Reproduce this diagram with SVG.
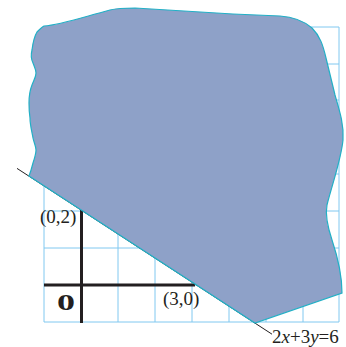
<svg xmlns="http://www.w3.org/2000/svg" width="346" height="347" viewBox="0 0 346 347">
<style>
.grid{stroke:#80C8F0;stroke-width:1;fill:none}
.axis{stroke:#231F20;stroke-width:3;fill:none}
.t{font-family:"Liberation Serif","Times New Roman",serif;font-size:19px;fill:#231F20}
.big{font-size:24px;font-weight:bold}
</style>
<rect width="346" height="347" fill="#fff"/>
<g id="grid" class="grid">
<path d="M44,27V322M81,27V322M118,27V322M155,27V322M192,27V322M229,27V322M266,27V322M303,27V322M339,27V322"/>
<path d="M44,27H339M44,64H339M44,100H339M44,137H339M44,174H339M44,211H339M44,248H339M44,285H339M44,322H339"/>
</g>
<g id="axes">
<line class="axis" x1="44" y1="285" x2="195" y2="285"/>
<line class="axis" x1="81.5" y1="210" x2="81.5" y2="323"/>
</g>
<g id="connectors">
<line x1="17" y1="168.4" x2="272" y2="334.2" stroke="#231F20" stroke-width="1"/>
</g>
<g id="region">
<path d="M29,176 C31,171 32,167 33,163 C35,157 36,153 36,150 C36,146 34,143 33,138 C32,132 30,125 30,118 C29,112 29,107 29,103 C29,97 30,90 32,85 C34,80 36,77 36,73 C36,69 34,66 33,63 C31,59 31,54 32,50 C33,42 34,37 37,32 C40,29 42,27 44,26 C60,25 80,18 110,10 C118,8 125,8 135,8 L233,14 L280,16 C295,17 305,22 312,28 C320,36 323,45 326,58 L335,95 C340,112 344,125 343,140 C341,160 332,185 327,205 C325,215 327,225 332,240 C338,258 342,275 342,293 L255,323 Z" fill="#8EA1C8" stroke="#22B0C6" stroke-width="1.2"/>
</g>
<g id="labels">
<text class="t" x="40" y="223">(0,2)</text>
<text class="t" x="163" y="305">(3,0)</text>
<text class="t big" transform="translate(57,309.5) scale(1.5,1)" x="0" y="0">0</text>
<text class="t" x="272" y="343">2<tspan font-style="italic">x</tspan>+3<tspan font-style="italic">y</tspan>=6</text>
</g>
</svg>
